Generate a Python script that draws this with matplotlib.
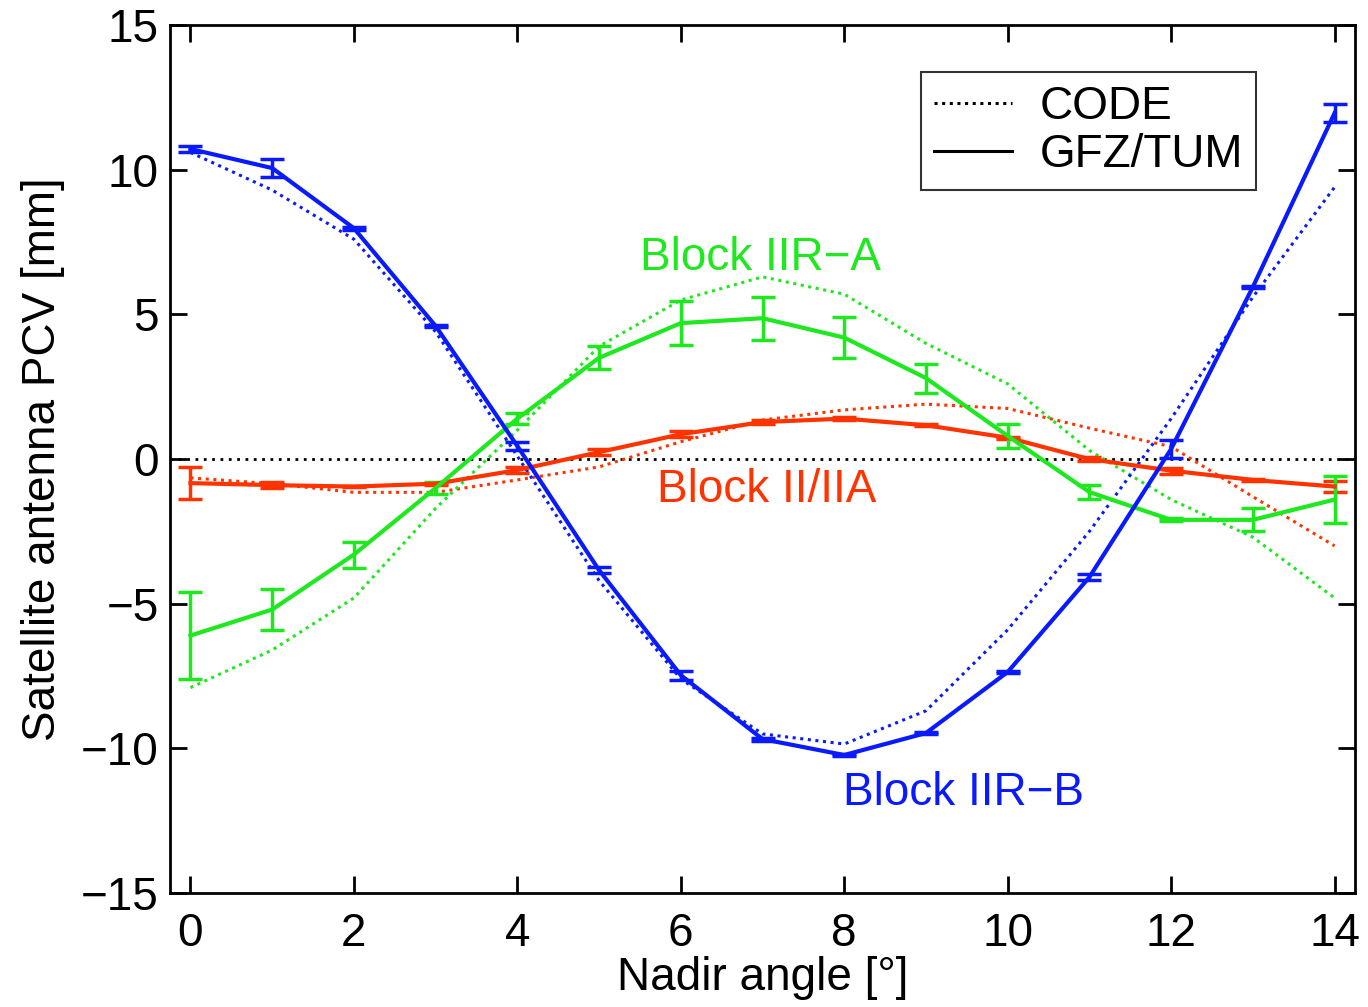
import matplotlib
matplotlib.use("Agg")
import matplotlib.pyplot as plt
import numpy as np

plt.rcParams["font.family"] = ["Liberation Sans", "DejaVu Sans"]

nadir = np.arange(0, 15)

# GFZ/TUM (solid with error bars)
gfz_iirb = [10.72, 10.06, 7.98, 4.6, 0.45, -3.84, -7.47, -9.68, -10.23, -9.47, -7.36, -4.08, 0.35, 5.95, 11.96]
gfz_iirb_err = [0.1, 0.3, 0.05, 0.05, 0.15, 0.1, 0.15, 0.05, 0.05, 0.05, 0.05, 0.1, 0.3, 0.05, 0.3]
gfz_iira = [-6.1, -5.2, -3.3, -1.0, 1.4, 3.5, 4.7, 4.87, 4.2, 2.8, 0.8, -1.14, -2.1, -2.1, -1.4]
gfz_iira_err = [1.5, 0.7, 0.45, 0.2, 0.2, 0.4, 0.75, 0.75, 0.7, 0.5, 0.4, 0.25, 0.05, 0.4, 0.8]
gfz_ii = [-0.83, -0.9, -0.95, -0.85, -0.38, 0.24, 0.86, 1.28, 1.4, 1.17, 0.74, 0.0, -0.4, -0.72, -0.95]
gfz_ii_err = [0.55, 0.1, 0.03, 0.03, 0.1, 0.1, 0.1, 0.08, 0.05, 0.03, 0.03, 0.08, 0.1, 0.03, 0.2]

# CODE (dotted)
code_iirb = [10.6, 9.3, 7.6, 4.4, 0.1, -4.2, -7.6, -9.5, -9.85, -8.7, -5.9, -2.5, 1.4, 5.6, 9.4]
code_iira = [-7.9, -6.6, -4.8, -1.7, 1.0, 3.9, 5.5, 6.3, 5.7, 4.0, 2.6, 0.3, -1.4, -2.7, -4.8]
code_ii = [-0.65, -0.85, -1.15, -1.15, -0.72, -0.27, 0.6, 1.35, 1.7, 1.9, 1.75, 1.07, 0.43, -1.3, -3.0]

blue = "#0a1aff"
green = "#1ee81e"
red = "#ff3300"

fig = plt.figure(figsize=(13.68, 10.07), dpi=100)
ax = fig.add_axes([0.1243, 0.1132, 0.8662, 0.8618])

ax.axhline(0, color="black", linestyle=(0, (1, 2)), linewidth=2)

for code, col in [(code_ii, red), (code_iira, green), (code_iirb, blue)]:
    ax.plot(nadir, code, linestyle=(0, (1, 1.5)), color=col, linewidth=2.2)

for gfz, err, col in [(gfz_ii, gfz_ii_err, red), (gfz_iira, gfz_iira_err, green), (gfz_iirb, gfz_iirb_err, blue)]:
    ax.errorbar(nadir, gfz, yerr=err, color=col, linewidth=3, elinewidth=2.5,
                capsize=8.5, capthick=2.5)

fs = 33
ax.text(6.98, 6.95, "Block IIR\u2212A", color=green, fontsize=fs, ha="center", va="center")
ax.text(7.05, -1.07, "Block II/IIA", color=red, fontsize=fs, ha="center", va="center")
ax.text(9.46, -11.55, "Block IIR\u2212B", color=blue, fontsize=fs, ha="center", va="center")

# legend proxies
ax.plot([], [], color="black", linestyle=(0, (1, 1.5)), linewidth=2.2, label="CODE")
ax.plot([], [], color="black", linewidth=2.2, label="GFZ/TUM")
h, l = ax.get_legend_handles_labels()
leg = ax.legend(h[-2:], l[-2:], loc="upper right", bbox_to_anchor=(0.9165, 0.946),
                borderaxespad=0, fontsize=fs, frameon=True, fancybox=False, edgecolor="black",
                handlelength=1.7, handletextpad=0.6, borderpad=0.28, labelspacing=0.1)
leg.get_frame().set_linewidth(1.5)

ax.set_xlim(-0.25, 14.25)
ax.set_ylim(-15, 15)
ax.set_xticks(range(0, 15, 2))
ax.set_yticks(range(-15, 16, 5))
ax.set_yticklabels([str(v).replace("-", "\u2212") for v in range(-15, 16, 5)])
ax.tick_params(direction="in", length=12, width=2, labelsize=fs, top=True, right=True, pad=8)
ax.tick_params(axis="x", pad=14)
for s in ax.spines.values():
    s.set_linewidth(2)

ax.set_xlabel("Nadir angle [\u00b0]", fontsize=fs, labelpad=0)
ax.set_ylabel("Satellite antenna PCV [mm]", fontsize=fs, labelpad=12)

fig.savefig("out.png", dpi=100)
